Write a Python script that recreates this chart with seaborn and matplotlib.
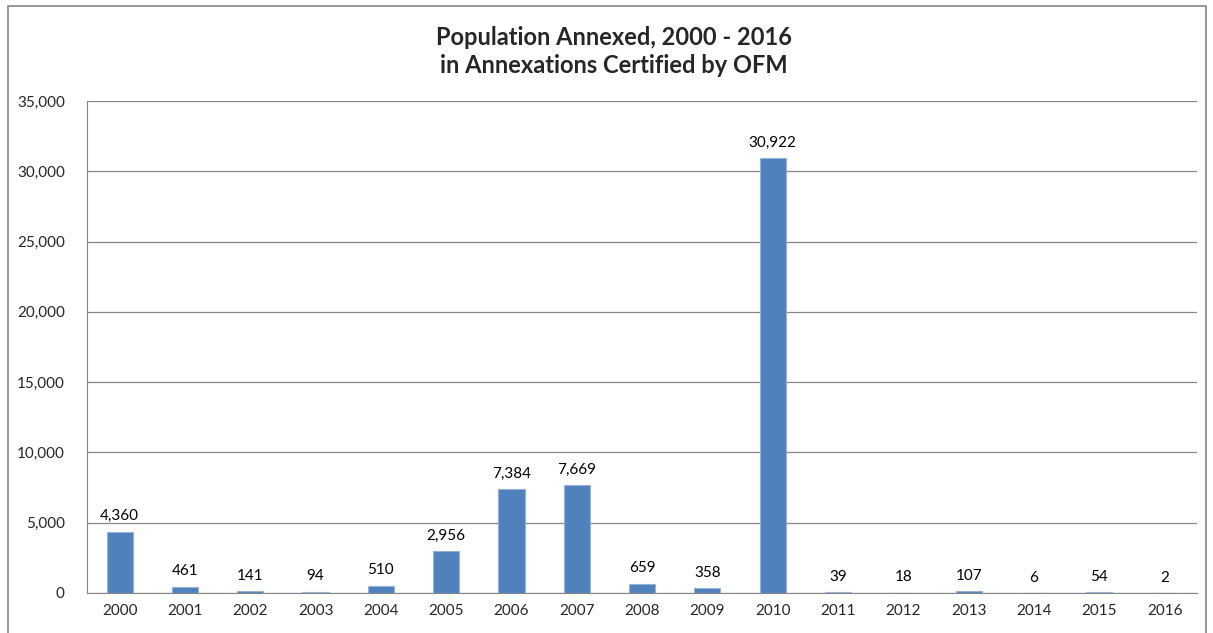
import matplotlib
matplotlib.use("Agg")
import matplotlib.pyplot as plt
import matplotlib.patches as mpatches
import seaborn as sns
import pandas as pd

# data
years = ['2000', '2001', '2002', '2003', '2004', '2005', '2006', '2007', '2008',
         '2009', '2010', '2011', '2012', '2013', '2014', '2015', '2016']
population = [4360, 461, 141, 94, 510, 2956, 7384, 7669, 659,
              358, 30922, 39, 18, 107, 6, 54, 2]
yticks = [0, 5000, 10000, 15000, 20000, 25000, 30000, 35000]

df = pd.DataFrame({'Year': years, 'Population': population})

sns.set_style('white')
plt.rcParams['font.family'] = ['Lato', 'DejaVu Sans']

fig = plt.figure(figsize=(12.13, 6.33), dpi=100)
ax = fig.add_axes([0.0717, 0.0632, 0.9153, 0.7772])

bar_color = '#4f81bd'
sns.barplot(data=df, x='Year', y='Population', color=bar_color, width=0.4,
            saturation=1, ax=ax, zorder=3)
for p in ax.patches:
    p.set_edgecolor('#95b3d7')
    p.set_linewidth(0.8)

for i, v in enumerate(population):
    ax.annotate(f'{v:,}', (i, v), xytext=(0, 6), textcoords='offset points',
                ha='center', va='bottom', fontsize=11, color='black')

ax.set_ylim(0, 35000)
ax.set_yticks(yticks)
ax.set_yticklabels([f'{t:,}' for t in yticks], fontsize=11)
ax.tick_params(axis='x', labelsize=11, length=0, pad=8)
ax.tick_params(axis='y', length=0, pad=16)
ax.set_xlim(-0.5, len(years) - 0.5)
ax.yaxis.grid(True, color='#868686', linewidth=0.9, zorder=0)
ax.set_xlabel('')
ax.set_ylabel('')
for side in ['top', 'right']:
    ax.spines[side].set_visible(False)
ax.spines['left'].set_color('#868686')
ax.spines['bottom'].set_color('#868686')

fig.text(0.506, 0.9415, 'Population Annexed, 2000 - 2016', ha='center',
         va='center', fontsize=17, fontweight='bold')
fig.text(0.506, 0.897, 'in Annexations Certified by OFM', ha='center',
         va='center', fontsize=17, fontweight='bold')

# outer chart border
border = mpatches.Rectangle((8 / 1213, -0.05), (1206 - 8) / 1213, 1.05 - 6 / 633,
                            transform=fig.transFigure, fill=False,
                            edgecolor='#868686', linewidth=1.2)
fig.patches.append(border)

fig.savefig('out.png', dpi=100)
